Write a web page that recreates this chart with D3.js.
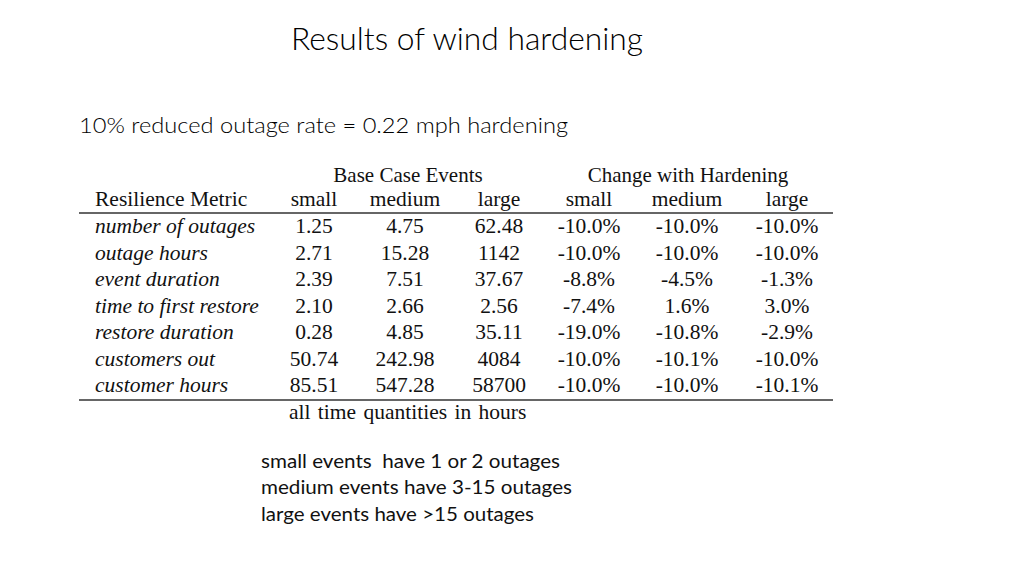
<!DOCTYPE html>
<html><head><meta charset="utf-8">
<script src="https://cdn.jsdelivr.net/npm/d3@7"></script>
<style>html,body{margin:0;padding:0;background:#fff;}</style>
</head><body>
<script>
const metrics = ["number of outages","outage hours","event duration","time to first restore","restore duration","customers out","customer hours"];
const sizes = ["small","medium","large"];
const baseSmall = ["1.25","2.71","2.39","2.10","0.28","50.74","85.51"];
const baseMedium = ["4.75","15.28","7.51","2.66","4.85","242.98","547.28"];
const baseLarge = ["62.48","1142","37.67","2.56","35.11","4084","58700"];
const changeSmall = [-10.0,-10.0,-8.8,-7.4,-19.0,-10.0,-10.0];
const changeMedium = [-10.0,-10.0,-4.5,1.6,-10.8,-10.1,-10.0];
const changeLarge = [-10.0,-10.0,-1.3,3.0,-2.9,-10.0,-10.1];
const notes = ["small events  have 1 or 2 outages","medium events have 3-15 outages","large events have >15 outages"];

const W=1024,H=576;
const svg=d3.select("body").append("svg").attr("width",W).attr("height",H);
const sans="Lato, 'Open Sans', sans-serif";
const serif="'Liberation Serif','DejaVu Serif',serif";

function fit(sel,w){ const n=sel.node(); const L=n.getComputedTextLength(); if(Math.abs(L-w)>1) sel.attr("textLength",w).attr("lengthAdjust","spacingAndGlyphs"); return sel;}

fit(svg.append("text").attr("x",291).attr("y",38).attr("dominant-baseline","central")
  .attr("font-family",sans).attr("font-weight",300).attr("font-size",31).attr("fill","#000")
  .text("Results of wind hardening"),352);
fit(svg.append("text").attr("x",79).attr("y",124).attr("dominant-baseline","central")
  .attr("font-family",sans).attr("font-weight",300).attr("font-size",22).attr("fill","#000")
  .text("10% reduced outage rate = 0.22 mph hardening"),489);

// table
const rowY=d3.scalePoint().domain(metrics).range([226,385]);
const colKeys=["bs","bm","bl","cs","cm","cl"];
const colX=d3.scaleOrdinal().domain(colKeys).range([314,405,499,589,687,787]);
const fmt=v=>v.toFixed(1)+"%";
const t=svg.append("g").attr("font-family",serif).attr("fill","#111").attr("font-size",21.5);

t.append("text").attr("x",408).attr("y",175).attr("font-size",21).attr("text-anchor","middle").attr("dominant-baseline","central").text("Base Case Events");
t.append("text").attr("x",688).attr("y",175).attr("font-size",21).attr("text-anchor","middle").attr("dominant-baseline","central").text("Change with Hardening");
t.append("text").attr("x",95).attr("y",199).attr("dominant-baseline","central").text("Resilience Metric");
colKeys.forEach((c,i)=>{
  t.append("text").attr("x",colX(c)).attr("y",199).attr("text-anchor","middle").attr("dominant-baseline","central").text(sizes[i%3]);
});
svg.append("line").attr("x1",79).attr("x2",833).attr("y1",213).attr("y2",213).attr("stroke","#666").attr("stroke-width",2);
svg.append("line").attr("x1",79).attr("x2",833).attr("y1",400).attr("y2",400).attr("stroke","#666").attr("stroke-width",2);

t.selectAll("text.m").data(metrics).join("text").attr("class","m")
  .attr("x",95).attr("y",d=>rowY(d)).attr("dominant-baseline","central").attr("font-style","italic").text(d=>d);
const cols=[["bs",baseSmall,d=>d],["bm",baseMedium,d=>d],["bl",baseLarge,d=>d],["cs",changeSmall,fmt],["cm",changeMedium,fmt],["cl",changeLarge,fmt]];
cols.forEach(([c,arr,f])=>{
  t.selectAll("text.v"+c).data(arr).join("text").attr("class","v"+c)
   .attr("x",colX(c)).attr("y",(d,i)=>rowY(metrics[i])).attr("text-anchor","middle").attr("dominant-baseline","central").text(f);
});
t.append("text").attr("x",289).attr("y",412).attr("dominant-baseline","central").attr("word-spacing",2).text("all time quantities in hours");

notes.forEach((s,i)=>{
  fit(svg.append("text").attr("x",261).attr("y",460+i*26.5).attr("dominant-baseline","central")
   .style("white-space","pre")
   .attr("font-family",sans).attr("font-size",19.5).attr("fill","#111").text(s), [299,311,273][i]);
});
</script>
</body></html>
